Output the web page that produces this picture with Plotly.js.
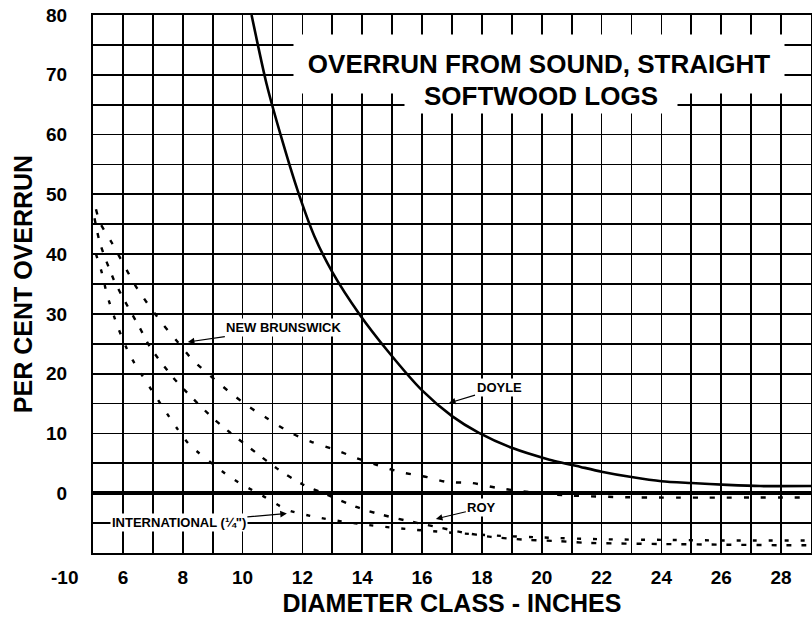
<!DOCTYPE html>
<html>
<head>
<meta charset="utf-8">
<script src="https://cdn.plot.ly/plotly-3.0.1.min.js"></script>
<style>html,body{margin:0;padding:0;background:#fff;}#chart{width:812px;height:617px;}</style>
</head>
<body>
<div id="chart"></div>
<script>
// ---- data ----
const xTickVals = [6, 8, 10, 12, 14, 16, 18, 20, 22, 24, 26, 28];
const xTickText = ['6', '8', '10', '12', '14', '16', '18', '20', '22', '24', '26', '28'];
const yTickVals = [0, 10, 20, 30, 40, 50, 60, 70, 80];
const yTickText = ['0', '10', '20', '30', '40', '50', '60', '70', '80'];

const doyleX = [10.3, 10.8, 11.35, 11.85, 12.4, 13.0, 13.9, 14.9, 16.0, 17.0, 17.9, 19.0, 20.2, 21.3, 22.0, 23.0, 24.0, 25.0, 26.2, 27.3, 29.0];
const doyleY = [80.0, 68.5, 58.6, 50.5, 43.0, 37.0, 30.0, 23.5, 17.2, 12.9, 10.1, 7.6, 5.7, 4.4, 3.6, 2.7, 2.0, 1.7, 1.4, 1.2, 1.2];

const nbX = [5.1, 5.23, 5.63, 6.47, 7.3, 7.83, 8.33, 9.57, 10.23, 10.8, 11.57, 12.3, 13.13, 13.8, 14.5, 15.3, 16.17, 16.8, 17.67, 18.5, 19.9, 21.0, 23.2, 29.0];
const nbY = [47.5, 45.3, 41.9, 34.3, 28.5, 25.3, 22.3, 16.9, 14.4, 12.6, 10.2, 8.6, 7.2, 5.9, 4.7, 3.5, 2.7, 1.9, 1.7, 0.9, 0.0, -0.4, -0.7, -0.7];

const royX = [5.05, 5.23, 5.67, 6.0, 6.57, 6.9, 7.67, 8.13, 9.0, 9.57, 10.47, 11.13, 12.0, 12.8, 13.8, 14.5, 15.4, 16.45, 17.3, 18.3, 19.5, 20.5, 21.5, 24.0, 26.0, 28.0, 29.0];
const royY = [46.0, 41.9, 36.0, 32.7, 27.6, 24.5, 19.4, 16.9, 12.6, 10.2, 6.7, 4.2, 1.5, -0.2, -2.3, -3.4, -4.5, -5.6, -6.5, -7.3, -7.8, -8.0, -8.3, -8.5, -8.6, -8.7, -8.7];

const intlX = [5.1, 5.3, 5.47, 5.83, 6.23, 6.63, 7.8, 8.23, 9.47, 10.0, 10.63, 11.5, 12.57, 14.0, 15.5, 17.0, 18.5, 20.0, 22.0, 24.0, 26.0, 29.0];
const intlY = [40.0, 36.8, 33.2, 27.8, 23.1, 19.8, 10.9, 8.1, 3.1, 1.4, -0.3, -2.8, -4.1, -5.2, -6.0, -6.6, -7.1, -7.4, -7.7, -7.8, -7.9, -7.9];

const seriesNames = ['DOYLE', 'NEW BRUNSWICK', 'ROY', "INTERNATIONAL (¼\")"];

// ---- styling ----
const FONT = 'Liberation Sans, Arial, Helvetica, sans-serif';
const INK = '#000';

function curve(x, y, name, width, dash) {
  return {
    type: 'scatter', mode: 'lines', x: x, y: y, name: name,
    line: { color: INK, width: width, dash: dash, shape: 'spline', smoothing: 0.7 },
    hoverinfo: 'skip'
  };
}

const traces = [
  curve(doyleX, doyleY, seriesNames[0], 2.6, 'solid'),
  curve(nbX, nbY, seriesNames[1], 2.4, '5px,12px'),
  curve(royX, royY, seriesNames[2], 2.4, '5px,10px'),
  curve(intlX, intlY, seriesNames[3], 2.4, '4px,12px')
];

const labelFont = { family: FONT, size: 13, color: INK, weight: 'bold' };
function pointer(x, y, text, ax, ay) {
  return {
    x: x, y: y, xref: 'x', yref: 'y', text: text, showarrow: true,
    arrowhead: 2, arrowsize: 1.1, arrowwidth: 1.2, arrowcolor: INK,
    ax: ax, ay: ay, font: labelFont, bgcolor: '#fff', borderpad: 1
  };
}

const layout = {
  width: 812, height: 617,
  margin: { l: 93, r: 1, t: 15, b: 64, pad: 0 },
  paper_bgcolor: '#fff', plot_bgcolor: '#fff',
  showlegend: false,
  font: { family: FONT, color: INK },
  xaxis: {
    range: [5, 29],
    tickmode: 'array', tickvals: xTickVals, ticktext: xTickText,
    ticks: '', ticklabelstandoff: 6,
    tickfont: { family: FONT, size: 19, color: INK, weight: 'bold' },
    showgrid: true, gridcolor: INK, gridwidth: 1.8,
    minor: { tickmode: 'linear', tick0: 5, dtick: 1, showgrid: true, gridcolor: INK, gridwidth: 1.8 },
    zeroline: false,
    showline: true, mirror: true, linecolor: INK, linewidth: 2,
    title: { text: 'DIAMETER CLASS - INCHES', standoff: 11,
             font: { family: FONT, size: 25, color: INK, weight: 'bold' } }
  },
  yaxis: {
    range: [-10, 80],
    tickmode: 'array', tickvals: yTickVals, ticktext: yTickText,
    ticks: '', ticklabelstandoff: 20,
    tickfont: { family: FONT, size: 19, color: INK, weight: 'bold' },
    showgrid: true, gridcolor: INK, gridwidth: 1.8,
    minor: { tickmode: 'linear', tick0: 0, dtick: 5, showgrid: true, gridcolor: INK, gridwidth: 1.8 },
    zeroline: true, zerolinecolor: INK, zerolinewidth: 3.5,
    showline: true, mirror: true, linecolor: INK, linewidth: 2,
    title: { text: 'PER CENT OVERRUN', standoff: 6,
             font: { family: FONT, size: 25, color: INK, weight: 'bold' } }
  },
  annotations: [
    { x: 19.9, y: 71.8, xref: 'x', yref: 'y', text: 'OVERRUN FROM SOUND, STRAIGHT',
      showarrow: false, bgcolor: '#fff', width: 490, height: 58, borderpad: 0,
      font: { family: FONT, size: 26, color: INK, weight: 'bold' } },
    { x: 19.97, y: 66.4, xref: 'x', yref: 'y', text: 'SOFTWOOD LOGS',
      showarrow: false, bgcolor: '#fff', width: 272, height: 34, borderpad: 0,
      font: { family: FONT, size: 26, color: INK, weight: 'bold' } },
    pointer(8.17, 25.3, seriesNames[1], 96, -14),
    pointer(16.9, 15.1, seriesNames[0], 50, -15),
    pointer(16.46, -4.3, seriesNames[2], 46, -11),
    pointer(11.48, -3.4, seriesNames[3], -108, 9),
    { x: -0.04, y: -0.045, xref: 'paper', yref: 'paper', text: '-10', showarrow: false,
      xanchor: 'center', yanchor: 'middle',
      font: { family: FONT, size: 19, color: INK, weight: 'bold' } }
  ]
};

Plotly.newPlot('chart', traces, layout, { displayModeBar: false, staticPlot: true });
</script>
</body>
</html>
